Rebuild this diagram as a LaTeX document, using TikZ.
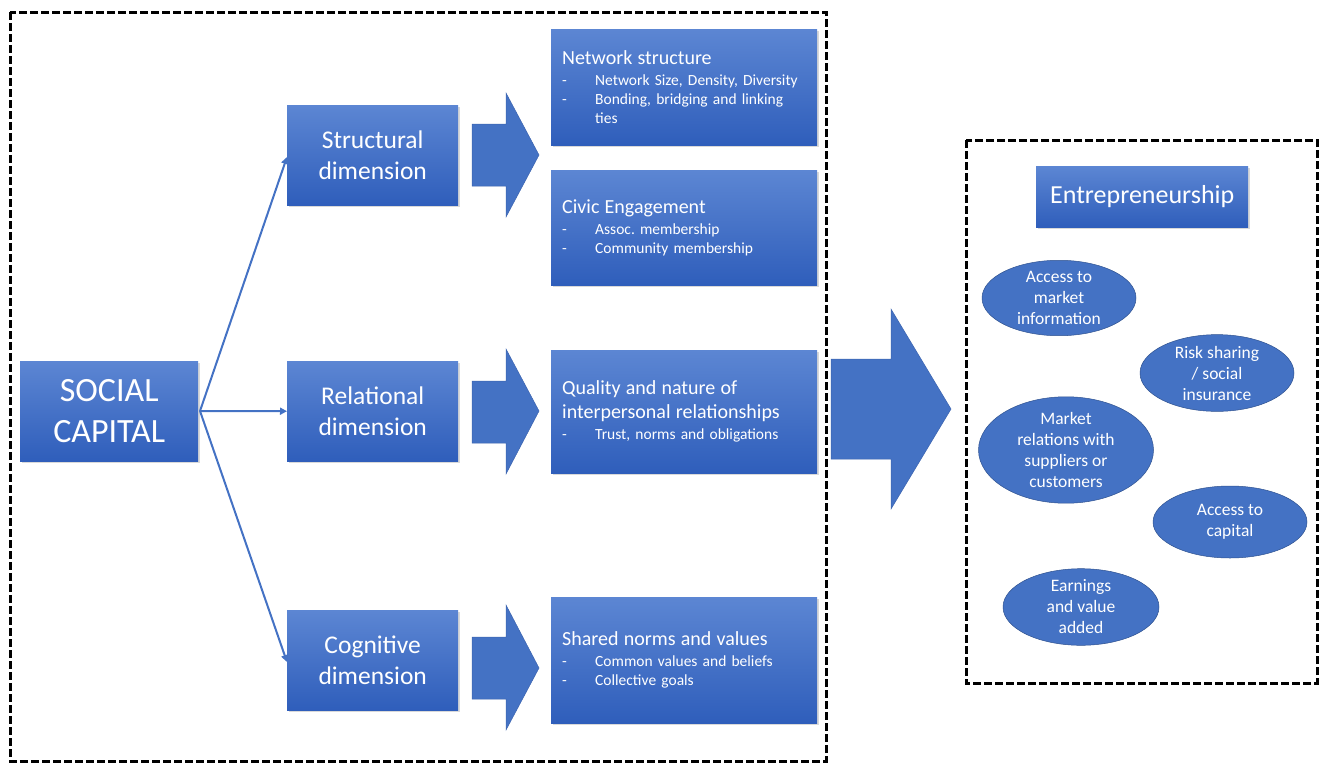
\documentclass[tikz,border=0pt]{standalone}
\usepackage{fontspec}
\setmainfont{Carlito}
\frenchspacing
\usetikzlibrary{arrows.meta,shadows,shapes.geometric}
\definecolor{boxtop}{RGB}{92,134,211}
\definecolor{boxbot}{RGB}{47,94,187}
\definecolor{mblue}{RGB}{68,114,196}
\definecolor{mborder}{RGB}{60,100,175}
\definecolor{ellborder}{RGB}{47,82,143}
\tikzset{
  bluebox/.style={rectangle, top color=boxtop, bottom color=boxbot, draw=none,
    text=white, inner sep=0pt, anchor=north west,
    drop shadow={opacity=0.25, shadow xshift=2pt, shadow yshift=-2pt, fill=black!60}},
  dimbox/.style={bluebox, minimum width=171pt, minimum height=100pt, align=center,
    font=\fontsize{25.5}{31}\selectfont},
  detbox/.style={bluebox, minimum width=266pt, text width=244pt, inner xsep=11pt,
    align=left, font=\fontsize{15.5}{19}\selectfont},
  ell/.style={ellipse, fill=mblue, draw=ellborder, line width=0.5pt, text=white,
    inner sep=0pt, align=center, font=\fontsize{17.5}{21}\selectfont},
  dashbox/.style={draw=black, line width=3pt, dash pattern=on 8pt off 3pt},
  blockarrow/.style={fill=mblue, draw=mborder, line width=0.5pt},
  link/.style={draw=mblue, line width=2pt, -{Triangle[length=7pt,width=7pt]}},
}
\newcommand\ttl[1]{{\fontsize{20}{24}\selectfont #1}}
\newcommand\itm[1]{\makebox[33pt][l]{-}#1}
\begin{document}
\begin{tikzpicture}[x=1pt,y=-1pt]
\useasboundingbox (0,0) rectangle (1320,763);
% dashed frames
\draw[dashbox] (10,12) rectangle (826,761);
\draw[dashbox] (966,140) rectangle (1317,683);

% social capital
\node[bluebox, minimum width=178pt, minimum height=100pt, align=center,
  font=\fontsize{34}{41}\selectfont] (sc) at (20,361) {SOCIAL\\CAPITAL};

% dimensions
\node[dimbox] (str) at (287,105) {Structural\\dimension};
\node[dimbox] (rel) at (287,361) {Relational\\dimension};
\node[dimbox] (cog) at (287,610) {Cognitive\\dimension};

% links
\coordinate (scs) at (200,411);
\draw[link] (scs) -- (str.west|-0,157);
\draw[link] (scs) -- (rel.west);
\draw[link] (scs) -- (cog.west|-0,662);

% block arrows
\draw[blockarrow] (472,124) -- (506,124) -- (506,93) -- (539,155) -- (506,217) -- (506,186) -- (472,186) -- cycle;
\draw[blockarrow] (472,381) -- (506,381) -- (506,349) -- (539,411) -- (506,474) -- (506,443) -- (472,443) -- cycle;
\draw[blockarrow] (472,637) -- (506,637) -- (506,605) -- (539,668) -- (506,730) -- (506,699) -- (472,699) -- cycle;
\draw[blockarrow] (831,359) -- (891,359) -- (891,309) -- (951,409) -- (891,509) -- (891,459) -- (831,459) -- cycle;

% detail boxes
\node[detbox, minimum height=116pt] (net) at (551,29) {\ttl{Network structure}\\[2pt]
\itm{Network Size, Density, Diversity}\\
\itm{Bonding, bridging and linking}\\
\hspace*{33pt}ties};
\node[detbox, minimum height=115pt] (civ) at (551,170) {\ttl{Civic Engagement}\\[2pt]
\itm{Assoc. membership}\\
\itm{Community membership}};
\node[detbox, minimum height=123pt] (qual) at (551,350) {\ttl{Quality and nature of}\\[5pt]
\ttl{interpersonal relationships}\\[2pt]
\itm{Trust, norms and obligations}};
\node[detbox, minimum height=126pt] (shr) at (551,597) {\ttl{Shared norms and values}\\[2pt]
\itm{Common values and beliefs}\\
\itm{Collective goals}};

% entrepreneurship
\node[bluebox, minimum width=212pt, minimum height=61pt,
  font=\fontsize{26}{30}\selectfont] (ent) at (1036,166) {Entrepreneurship};

% ellipses
\node[ell, minimum width=154pt, minimum height=72pt] (e1) at (1059,298) {Access to\\market\\information};
\node[ell, minimum width=154pt, minimum height=72pt] (e2) at (1217,373) {Risk sharing\\/ social\\insurance};
\node[ell, minimum width=175pt, minimum height=86pt] (e3) at (1066,450) {Market\\relations with\\suppliers or\\customers};
\node[ell, minimum width=154pt, minimum height=72pt] (e4) at (1230,522) {Access to\\capital};
\node[ell, minimum width=156pt, minimum height=72pt] (e5) at (1081,607) {Earnings\\and value\\added};
\end{tikzpicture}
\end{document}
